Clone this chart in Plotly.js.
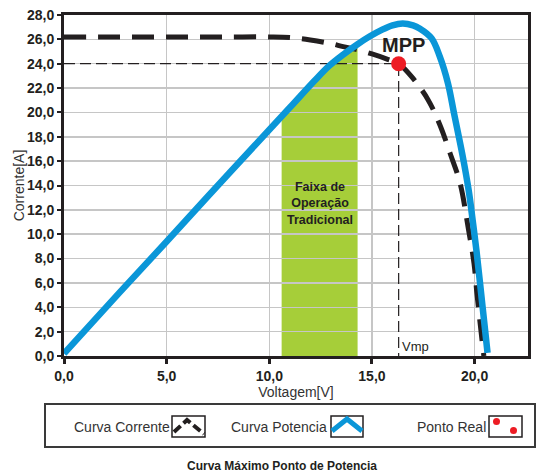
<!DOCTYPE html>
<html>
<head>
<meta charset="utf-8">
<script src="https://cdn.plot.ly/plotly-3.0.1.min.js"></script>
<style>html,body{margin:0;padding:0;background:#fff;}#chart{width:536px;height:472px;}</style>
</head>
<body>
<div id="chart"></div>
<script>
// ---- data ----
const correnteX = [0, 2, 4, 6, 8, 10, 11, 12, 13, 13.6, 14.3, 15.0, 15.7, 16.3, 16.95, 17.73, 18.31, 18.8, 19.29, 19.69, 19.97, 20.12, 20.36, 20.45];
const correnteY = [26.2, 26.2, 26.2, 26.2, 26.2, 26.2, 26.15, 25.95, 25.65, 25.4, 25.15, 24.8, 24.4, 24.0, 22.9, 21.05, 18.97, 16.67, 14.2, 10.5, 7.6, 5.0, 1.3, 0];
const potenciaX = [0, 2.7, 5, 7, 9.3, 11, 12.2, 12.9, 13.6, 14.3, 14.9, 15.5, 16.0, 16.5, 17.0, 17.32, 17.9, 18.3, 18.7, 19.0, 19.42, 19.71, 19.9, 20.1, 20.39, 20.63];
const potenciaY = [0.2, 5.2, 9.4, 13.1, 17.3, 20.4, 22.6, 23.8, 24.75, 25.6, 26.25, 26.8, 27.15, 27.3, 27.15, 26.9, 26.1, 24.6, 22.4, 19.9, 16.4, 13.6, 11.2, 8.5, 4.0, 0.25];
const faixaX = [10.6, 11.5, 12.5, 13.5, 14.3];
const faixaY = [19.6, 21.3, 23.1, 24.6, 25.6];
const mppX = [16.3];
const mppY = [24.0];
const xTickVals = [0, 5, 10, 15, 20];
const xTickText = ['0,0', '5,0', '10,0', '15,0', '20,0'];
const yTickVals = [0, 2, 4, 6, 8, 10, 12, 14, 16, 18, 20, 22, 24, 26, 28];
const yTickText = ['0,0', '2,0', '4,0', '6,0', '8,0', '10,0', '12,0', '14,0', '16,0', '18,0', '20,0', '22,0', '24,0', '26,0', '28,0'];

// ---- layout helpers (pixel -> paper) ----
const L = 64, R = 528, T = 15, B = 356;
const px = X => (X - L) / (R - L);
const py = Y => (B - Y) / (B - T);
const DARK = '#231f20';
const FONT = 'Liberation Sans, Arial, sans-serif';

let faixaPath = 'M ' + faixaX[0] + ',0';
for (let i = 0; i < faixaX.length; i++) faixaPath += ' L ' + faixaX[i] + ',' + faixaY[i];
faixaPath += ' L ' + faixaX[faixaX.length - 1] + ',0 Z';

const traces = [
  { x: correnteX, y: correnteY, type: 'scatter', mode: 'lines', name: 'Curva Corrente',
    line: { color: DARK, width: 5, dash: '22px,12px', shape: 'spline', smoothing: 1 }, hoverinfo: 'skip' },
  { x: [0, mppX[0], mppX[0]], y: [mppY[0], mppY[0], 0], type: 'scatter', mode: 'lines',
    line: { color: DARK, width: 1.2, dash: '11px,5px' }, hoverinfo: 'skip' },
  { x: potenciaX, y: potenciaY, type: 'scatter', mode: 'lines', name: 'Curva Potencia',
    line: { color: '#0a96d8', width: 6.5, shape: 'spline', smoothing: 1 }, hoverinfo: 'skip' },
  { x: mppX, y: mppY, type: 'scatter', mode: 'markers', name: 'Ponto Real',
    marker: { color: '#ed1c24', size: 15 }, hoverinfo: 'skip' }
];

function pxPath(pts) {
  return pts.map((p, i) => (i ? 'L ' : 'M ') + px(p[0]).toFixed(5) + ',' + py(p[1]).toFixed(5)).join(' ');
}

const shapes = [
  { type: 'path', xref: 'x', yref: 'y', path: faixaPath, fillcolor: '#a6ce39', line: { width: 0 }, layer: 'below' },
  { type: 'rect', xref: 'paper', yref: 'paper', x0: px(45), x1: px(535), y0: py(404), y1: py(447),
    line: { color: '#3a3a3a', width: 2 } },
  { type: 'rect', xref: 'paper', yref: 'paper', x0: px(172), x1: px(205), y0: py(416), y1: py(437), line: { color: DARK, width: 1.5 } },
  { type: 'rect', xref: 'paper', yref: 'paper', x0: px(331), x1: px(363), y0: py(416), y1: py(437), line: { color: DARK, width: 1.5 } },
  { type: 'rect', xref: 'paper', yref: 'paper', x0: px(489), x1: px(522), y0: py(416), y1: py(437), line: { color: DARK, width: 1.5 } },
  { type: 'path', xref: 'paper', yref: 'paper', path: pxPath([[174, 432], [187, 420], [204, 434]]),
    line: { color: DARK, width: 4, dash: '9px,4px' } },
  { type: 'path', xref: 'paper', yref: 'paper', path: pxPath([[332, 431], [347, 419], [362, 431]]),
    line: { color: '#0a96d8', width: 5 } },
  { type: 'circle', xref: 'paper', yref: 'paper', x0: px(493), x1: px(500), y0: py(418), y1: py(425), fillcolor: '#ed1c24', line: { width: 0 } },
  { type: 'circle', xref: 'paper', yref: 'paper', x0: px(510), x1: px(517), y0: py(427), y1: py(434), fillcolor: '#ed1c24', line: { width: 0 } }
];

const annotations = [
  { x: px(403), y: py(45), xref: 'paper', yref: 'paper', text: '<b>MPP</b>', showarrow: false, xanchor: 'center', yanchor: 'middle',
    font: { family: FONT, size: 20, color: DARK } },
  { x: mppX[0], y: 0, xref: 'x', yref: 'y', text: 'Vmp', showarrow: false, xanchor: 'left', yanchor: 'bottom', xshift: 1,
    font: { family: FONT, size: 13, color: DARK } },
  { x: (faixaX[0] + faixaX[faixaX.length - 1]) / 2, y: 12.5, xref: 'x', yref: 'y',
    text: '<b>Faixa de<br>Operação<br>Tradicional</b>', showarrow: false, align: 'center', xanchor: 'center', yanchor: 'middle',
    font: { family: FONT, size: 12.5, color: DARK } },
  { x: px(72), y: py(427), xref: 'paper', yref: 'paper', text: 'Curva Corrente', showarrow: false, xanchor: 'left', yanchor: 'middle',
    font: { family: FONT, size: 14, color: '#333' } },
  { x: px(229), y: py(427), xref: 'paper', yref: 'paper', text: 'Curva Potencia', showarrow: false, xanchor: 'left', yanchor: 'middle',
    font: { family: FONT, size: 14, color: '#333' } },
  { x: px(415), y: py(427), xref: 'paper', yref: 'paper', text: 'Ponto Real', showarrow: false, xanchor: 'left', yanchor: 'middle',
    font: { family: FONT, size: 14, color: '#333' } },
  { x: px(282), y: py(466), xref: 'paper', yref: 'paper', text: '<b>Curva Máximo Ponto de Potencia</b>', showarrow: false,
    xanchor: 'center', yanchor: 'middle',
    font: { family: FONT, size: 12, color: DARK } }
];

const layout = {
  width: 536, height: 472,
  margin: { l: L, r: 536 - R, t: T, b: 472 - B },
  paper_bgcolor: '#fff', plot_bgcolor: '#fff',
  showlegend: false,
  font: { family: FONT, color: DARK },
  xaxis: {
    range: [0, 22.6], tickvals: xTickVals, ticktext: xTickText,
    showgrid: true, gridcolor: '#c6c6c6', gridwidth: 1.5,
    showline: true, linecolor: DARK, linewidth: 3, mirror: true, zeroline: false,
    ticks: 'outside', ticklen: 5, tickwidth: 3, tickcolor: DARK,
    tickfont: { family: FONT, size: 14, color: DARK, weight: 'bold' },
    title: { text: 'Voltagem[V]', font: { family: FONT, size: 14, color: '#333' }, standoff: 0 }
  },
  yaxis: {
    range: [0, 28], tickvals: yTickVals, ticktext: yTickText,
    showgrid: true, gridcolor: '#c6c6c6', gridwidth: 1.5,
    showline: true, linecolor: DARK, linewidth: 3, mirror: true, zeroline: false,
    ticks: 'outside', ticklen: 4, tickwidth: 2, tickcolor: DARK,
    tickfont: { family: FONT, size: 14, color: DARK, weight: 'bold' },
    title: { text: 'Corrente[A]', font: { family: FONT, size: 14, color: '#333' }, standoff: 0 }
  },
  shapes: shapes,
  annotations: annotations
};

Plotly.newPlot('chart', traces, layout, { displayModeBar: false, staticPlot: true });
</script>
</body>
</html>
